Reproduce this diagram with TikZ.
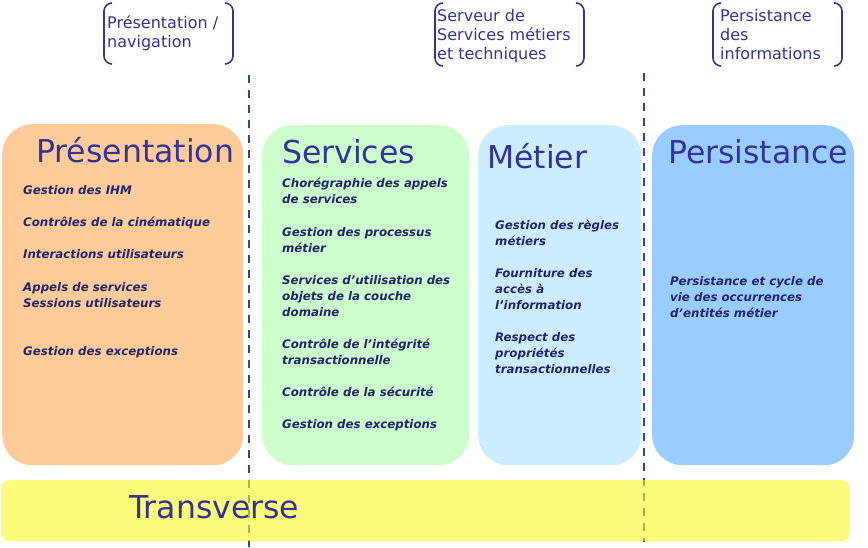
\documentclass[tikz,border=0pt]{standalone}
\usepackage{fontspec}
\setmainfont{DejaVu Sans}
\definecolor{navy}{HTML}{333399}
\definecolor{itemnavy}{HTML}{23236E}
\definecolor{sepblue}{HTML}{2B4C8C}
\definecolor{presfill}{HTML}{FFCC99}
\definecolor{servfill}{HTML}{CCFFCC}
\definecolor{metfill}{HTML}{CCECFF}
\definecolor{persfill}{HTML}{99CCFF}
\definecolor{transfill}{RGB}{250,250,35}
\begin{document}
\begin{tikzpicture}[x=1pt,y=-1pt,
  layerbox/.style={draw=none, rounded corners=30pt, anchor=north west, inner sep=0pt},
  layertitle/.style={anchor=base west, inner sep=0pt, text=navy, font=\fontsize{31.5}{37}\selectfont},
  % multi-line texts are placed by the baseline of their last line
  item/.style={anchor=base west, inner sep=0pt, align=left, text=itemnavy,
    font=\fontsize{11.8}{16}\selectfont\bfseries\itshape},
  tierlabel/.style={anchor=base west, inner sep=0pt, align=left, text=navy,
    font=\fontsize{16}{18.7}\selectfont},
  bracket/.style={draw=navy, line width=1.6pt, rounded corners=8pt},
  separator/.style={draw=sepblue, line width=1.6pt, dash pattern=on 8pt off 7pt}
]
\useasboundingbox (0,0) rectangle (868,547);

% layer boxes
\node[layerbox, fill=presfill, minimum width=241pt, minimum height=341pt] (presbox) at (2,124) {};
\node[layerbox, fill=servfill, minimum width=207pt, minimum height=340pt] (servbox) at (262,125) {};
\node[layerbox, fill=metfill, minimum width=163pt, minimum height=340pt] (metbox) at (478,125) {};
\node[layerbox, fill=persfill, minimum width=202pt, minimum height=340pt] (persbox) at (652,125) {};

% tier separators
\coordinate (sepAtop) at (249,75);
\coordinate (sepAbot) at (249,547);
\coordinate (sepBtop) at (644,73);
\coordinate (sepBbot) at (644,542);
\draw[separator] (sepAtop) -- (sepAbot);
\draw[separator] (sepBtop) -- (sepBbot);

% transverse band
\fill[transfill, fill opacity=0.6, rounded corners=9pt] (1,480) rectangle (850,541);
\node[layertitle] (transtitle) at (129,518) {Transverse};

% titles
\node[layertitle] (prestitle) at (36,162) {Présentation};
\node[layertitle] (servtitle) at (282,163) {Services};
\node[layertitle] (mettitle) at (487,168) {Métier};
\node[layertitle] (perstitle) at (668,163) {Persistance};

% presentation items
\node[item] (p1) at (23,194) {Gestion des IHM};
\node[item] (p2) at (23,226) {Contrôles de la cinématique};
\node[item] (p3) at (23,258) {Interactions utilisateurs};
\node[item] (p4) at (23,307) {Appels de services\\Sessions utilisateurs};
\node[item] (p5) at (23,355) {Gestion des exceptions};

% services items
\node[item] (s1) at (282,203) {Chorégraphie des appels\\de services};
\node[item] (s2) at (282,252) {Gestion des processus\\métier};
\node[item] (s3) at (282,316) {Services d’utilisation des\\objets de la couche\\domaine};
\node[item] (s4) at (282,364) {Contrôle de l’intégrité\\transactionnelle};
\node[item] (s5) at (282,396) {Contrôle de la sécurité};
\node[item] (s6) at (282,428) {Gestion des exceptions};

% business items
\node[item] (m1) at (495,245) {Gestion des règles\\métiers};
\node[item] (m2) at (495,309) {Fourniture des\\accès à\\l’information};
\node[item] (m3) at (495,373) {Respect des\\propriétés\\transactionnelles};

% persistence items
\node[item] (q1) at (670,317) {Persistance et cycle de\\vie des occurrences\\d’entités métier};

% tier labels with brackets
\node[tierlabel] (tierA) at (107,47) {Présentation /\\navigation};
\node[tierlabel] (tierB) at (437,59) {Serveur de\\Services métiers\\et techniques};
\node[tierlabel] (tierC) at (720,59) {Persistance\\des\\informations};

\draw[bracket] (112,3) -- (104,3) -- (104,64) -- (112,64);
\draw[bracket] (225,3) -- (233,3) -- (233,64) -- (225,64);
\draw[bracket] (443,3) -- (435,3) -- (435,66) -- (443,66);
\draw[bracket] (576,3) -- (584,3) -- (584,66) -- (576,66);
\draw[bracket] (721,3) -- (713,3) -- (713,66) -- (721,66);
\draw[bracket] (834,3) -- (842,3) -- (842,66) -- (834,66);
\end{tikzpicture}
\end{document}
